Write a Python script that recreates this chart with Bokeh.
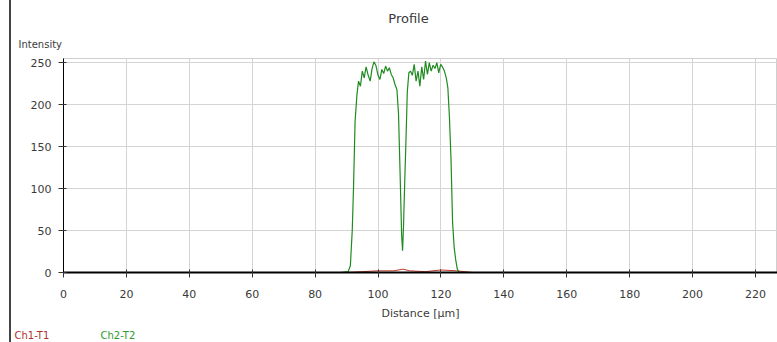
from bokeh.plotting import figure
from bokeh.layouts import column
from bokeh.models import Range1d, SingleIntervalTicker
from bokeh.core.properties import value
from bokeh.embed import file_html
from bokeh.resources import INLINE

title_text = "Profile"
x_label = "Distance [µm]"
y_label = "Intensity"
series_names = ["Ch1-T1", "Ch2-T2"]
series_colors = ["#b03030", "#2f9a2f"]

green_x = [0, 88, 90.5, 91.2, 91.8, 92.2, 92.7, 93.3, 93.8, 94.4, 95.0, 95.6, 96.2, 96.8, 97.5,
           98.1, 98.7, 99.3, 100.0, 100.6, 101.2, 101.8, 102.4, 103.0, 103.6, 104.2, 104.8,
           105.4, 106.0, 106.5, 107.0, 107.5, 107.8, 108.1, 108.5, 108.9, 109.3, 109.8, 110.3,
           110.9, 111.5, 112.1, 112.7, 113.3, 113.9, 114.5, 115.1, 115.7, 116.3, 116.9, 117.5,
           118.1, 118.7, 119.3, 119.9, 120.5, 121.1, 121.7, 122.2, 122.7, 123.2, 123.7, 124.2,
           124.7, 125.2, 125.8, 130, 227]
green_y = [0, 0, 1, 8, 50, 100, 180, 212, 228, 222, 240, 232, 245, 236, 228,
           243, 251, 247, 235, 230, 242, 237, 246, 240, 244, 236, 232,
           224, 218, 190, 120, 45, 26, 55, 110, 160, 215, 238, 240,
           235, 248, 228, 240, 222, 245, 230, 252, 236, 250, 240, 247,
           243, 250, 238, 248, 245, 240, 232, 220, 185, 135, 60, 30,
           15, 4, 0, 0, 0]

red_x = [0, 90, 95, 100, 105, 108, 110, 115, 120, 125, 130, 227]
red_y = [0, 0, 1, 2, 2, 4, 2, 1, 3, 2, 0, 0]

FONT = "DejaVu Sans"
TXT = "#3a3a3a"
W = 777
TOP_H, BOT_H = 52, 20
MAIN_H = 342 - TOP_H - BOT_H


def strip(h):
    f = figure(width=W, height=h, output_backend="svg", toolbar_location=None,
               x_range=Range1d(0, W), y_range=Range1d(h, 0),
               min_border=0, min_border_left=0, min_border_right=0,
               min_border_top=0, min_border_bottom=0, frame_align=False)
    f.axis.visible = False
    f.grid.visible = False
    f.outline_line_color = None
    f.background_fill_color = None
    f.border_fill_color = None
    return f


# --- header strip: title and y-axis caption
top = strip(TOP_H)
top.text(x=[408], y=[18], text=[title_text], text_font=value(FONT),
         text_font_size=value("13px"), text_color=TXT, text_align="center",
         text_baseline="middle")
top.text(x=[18], y=[44], text=[y_label], text_font=value(FONT),
         text_font_size=value("10px"), text_color=TXT, text_align="left",
         text_baseline="middle")

# --- main plot
p = figure(width=W, height=MAIN_H, output_backend="svg", toolbar_location=None,
           x_range=Range1d(0, 227), y_range=Range1d(0, 255),
           min_border_left=63, min_border_right=0, min_border_top=6,
           min_border_bottom=MAIN_H - 6 - 215, frame_align=False)
p.outline_line_color = "#cfcfcf"
p.background_fill_color = "white"
p.border_fill_color = None

p.xaxis.ticker = SingleIntervalTicker(interval=20, num_minor_ticks=0)
p.yaxis.ticker = SingleIntervalTicker(interval=50, num_minor_ticks=0)
for ax in (p.xaxis, p.yaxis):
    ax.major_label_text_font = FONT
    ax.major_label_text_font_size = "11px"
    ax.major_label_text_color = TXT
    ax.axis_line_color = "black"
    ax.major_tick_line_color = "#333333"
    ax.minor_tick_line_color = None
    ax.major_tick_out = 5
    ax.major_tick_in = 3
p.xaxis.axis_line_width = 2
p.xaxis.axis_label = x_label
p.xaxis.axis_label_text_font = FONT
p.xaxis.axis_label_text_font_size = "11px"
p.xaxis.axis_label_text_font_style = "normal"
p.xaxis.axis_label_text_color = TXT
p.xaxis.axis_label_standoff = 6
p.xaxis.major_label_standoff = 12
p.yaxis.major_label_standoff = 7

p.xgrid.grid_line_color = "#d4d4d4"
p.ygrid.grid_line_color = "#d4d4d4"

p.line(red_x, red_y, color="#c0392b", line_width=1)
p.line(green_x, green_y, color="#1f8a1f", line_width=1.2)

# --- legend strip
bot = strip(BOT_H)
bot.text(x=[14, 100], y=[13, 13], text=series_names, text_color=series_colors,
         text_font=value(FONT), text_font_size=value("10px"), text_align="left",
         text_baseline="middle")

layout = column(top, p, bot, spacing=0, width=W, height=342,
                styles={"background": "linear-gradient(to right, white 9px, #444 9px, #444 11px, white 11px)"})

open("out.html", "w").write(file_html(layout, INLINE))
